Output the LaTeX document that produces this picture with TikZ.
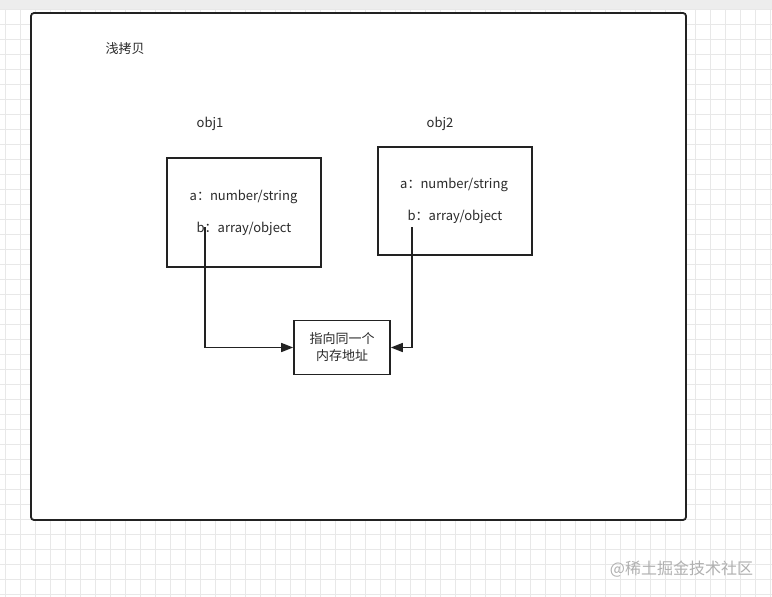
\documentclass[tikz,border=0pt]{standalone}
\usepackage{fontspec}
\setmainfont{Noto Sans CJK SC}
\usetikzlibrary{arrows.meta}
\definecolor{gridc}{HTML}{E8E8E8}
\definecolor{bandc}{HTML}{EDEDED}
\definecolor{linec}{HTML}{222222}
\definecolor{textc}{HTML}{2A2A2A}
\definecolor{wmc}{HTML}{B0B0B0}
\tikzset{
  boxst/.style={draw=linec, line width=1.6pt, fill=white},
  lbl/.style={text=textc, font=\fontsize{13}{15}\selectfont, inner sep=0pt},
  conn/.style={draw=linec, line width=1.5pt, -{Triangle[length=12pt,width=9pt]}},
}
\begin{document}
\begin{tikzpicture}[x=1pt,y=-1pt]
\useasboundingbox (0,0) rectangle (772,597);
\fill[white] (0,0) rectangle (772,597);
% grid
\foreach \i in {0,...,51} {
  \draw[gridc, line width=0.6pt] ({5.5+15*\i},0) -- ({5.5+15*\i},597);
}
\foreach \j in {0,...,39} {
  \draw[gridc, line width=0.6pt] (0,{9.5+15*\j}) -- (772,{9.5+15*\j});
}
\fill[bandc] (0,0) rectangle (772,9);
% outer container
\draw[boxst, rounded corners=3pt, line width=1.8pt] (31,13) rectangle (686,520);
\node[lbl] (title) at (125,49) {浅拷贝};
% obj1
\node[lbl] (o1lbl) at (210,124) {obj1};
\draw[boxst] (167,158) rectangle (321,267);
\node[lbl] (o1a) at (243.5,197) {a：number/string};
\node[lbl] (o1b) at (244,229) {b：array/object};
% obj2
\node[lbl] (o2lbl) at (440,124) {obj2};
\draw[boxst] (378,147) rectangle (532,255);
\node[lbl] (o2a) at (454,185) {a：number/string};
\node[lbl] (o2b) at (455,217) {b：array/object};
% memory
\node[boxst, minimum width=96pt, minimum height=54pt, inner sep=0pt, align=center,
      text=textc, font=\fontsize{13}{17}\selectfont] (mem) at (342,347.5) {指向同一个\\内存地址};
\coordinate (s1) at (205,227);
\coordinate (s2) at (412,227);
\draw[conn] (s1) |- (mem.west);
\draw[conn] (s2) |- (mem.east);
% watermark
\node[text=wmc, font=\fontsize{16}{18}\selectfont, inner sep=0pt] (wm) at (681.5,569) {@稀土掘金技术社区};
\end{tikzpicture}
\end{document}
